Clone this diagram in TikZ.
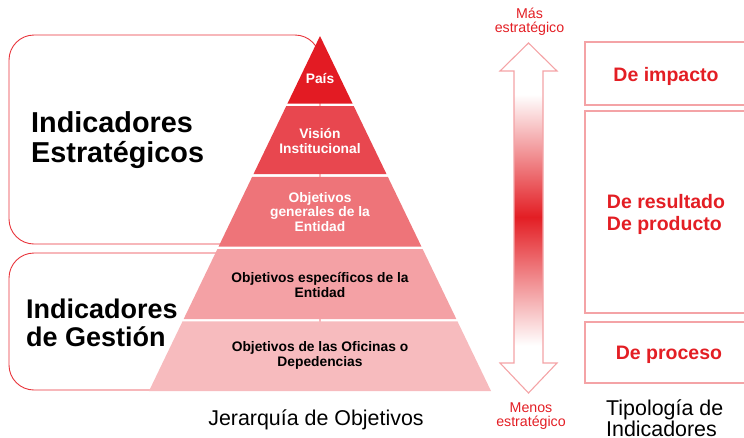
\documentclass[tikz,border=0pt]{standalone}
\usepackage{fontspec}
\setmainfont{Liberation Sans}
\usepackage{xcolor}
\usepackage{tikz}

\definecolor{layA}{HTML}{E31B23}
\definecolor{layB}{HTML}{E8474F}
\definecolor{layC}{HTML}{EE7479}
\definecolor{layD}{HTML}{F4A1A5}
\definecolor{layE}{HTML}{F7BBBE}
\definecolor{stratred}{HTML}{E31E24}
\definecolor{boxline}{HTML}{F4A3A6}
\definecolor{bracketline}{HTML}{E8343B}

\pgfdeclareverticalshading{stratshade}{100bp}{color(0bp)=(white); color(28bp)=(white); color(50bp)=(stratred); color(71bp)=(white); color(100bp)=(white)}

\tikzset{
  bracketbox/.style={draw=bracketline, line width=0.9pt, rounded corners=25pt},
  layerwhite/.style={white, align=center, inner sep=0pt, font=\fontsize{13.8}{14.5}\selectfont\bfseries},
  layerblack/.style={black, align=center, inner sep=0pt, font=\fontsize{13.8}{14.5}\selectfont\bfseries},
  typebox/.style={rectangle, draw=boxline, line width=1.1pt, minimum width=162pt},
  typetext/.style={text=stratred, align=left, inner sep=0pt, font=\fontsize{19.5}{22.5}\selectfont\bfseries},
  scalelabel/.style={text=stratred, align=center, inner sep=0pt, font=\fontsize{14.2}{14.3}\selectfont},
  caption/.style={black, inner sep=0pt, font=\fontsize{21.4}{21}\selectfont}
}

\begin{document}
\begin{tikzpicture}[x=1pt,y=-1pt]
\clip (0,0) rectangle (744,437);
% brackets behind the pyramid
\draw[bracketbox] (9,35) rectangle (320,244);
\draw[bracketbox] (9,253) rectangle (320,390);
% pyramid layers
\foreach \top/\bot/\col in {36/103.5/layA, 106/174.2/layB, 176.8/246.5/layC, 249/319/layD, 321.3/391/layE}
  \fill[\col] ({320-0.4817*(\top-36)},\top) -- ({320+0.4817*(\top-36)},\top) -- ({320+0.4817*(\bot-36)},\bot) -- ({320-0.4817*(\bot-36)},\bot) -- cycle;
\node at (320,78.5) [layerwhite] (pais) {País};
\node at (320,141) [layerwhite] (vision) {Visión\\Institucional};
\node at (320,212) [layerwhite] (objgen) {Objetivos\\generales de la\\Entidad};
\node at (320,285) [layerblack] (objesp) {Objetivos específicos de la\\Entidad};
\node at (320,355.5) [layerblack] (objofi) {Objetivos de las Oficinas o\\Depedencias};
\node at (31,140) [anchor=west, align=left, inner sep=0pt, font=\fontsize{28.8}{30}\selectfont\bfseries] (estrat) {Indicadores\\Estratégicos};
\node at (26,322.5) [anchor=west, align=left, inner sep=0pt, font=\fontsize{27}{28}\selectfont\bfseries] (gestion) {Indicadores\\de Gestión};
\node at (316,420) [caption] (jerarquia) {Jerarquía de Objetivos};
% double arrow
\fill[shading=stratshade] (514,71) rectangle (543,363);
\draw[boxline, line width=1.1pt] (528.5,43) -- (557,71) -- (543,71) -- (543,363) -- (557,363) -- (528.5,393) -- (500,363) -- (514,363) -- (514,71) -- (500,71) -- cycle;
\node at (529.5,22) [scalelabel] (mas) {Más\\estratégico};
\node at (531,416) [scalelabel] (menos) {Menos\\estratégico};
% typology boxes
\node at (666,73.5) [typebox, minimum height=63pt] (impactobox) {};
\node at (666,212) [typebox, minimum height=202pt] (resultadobox) {};
\node at (666,352.5) [typebox, minimum height=61pt] (procesobox) {};
\node at ([yshift=-2.5pt]impactobox.center) [typetext] (impacto) {De impacto};
\node at ([yshift=-2.5pt]resultadobox.center) [typetext] (resultado) {De resultado\\De producto};
\node at ([xshift=3pt, yshift=-2.5pt]procesobox.center) [typetext] (proceso) {De proceso};
\node at (606,418) [caption, anchor=west, align=left] (tipologia) {Tipología de\\Indicadores};
\end{tikzpicture}
\end{document}
